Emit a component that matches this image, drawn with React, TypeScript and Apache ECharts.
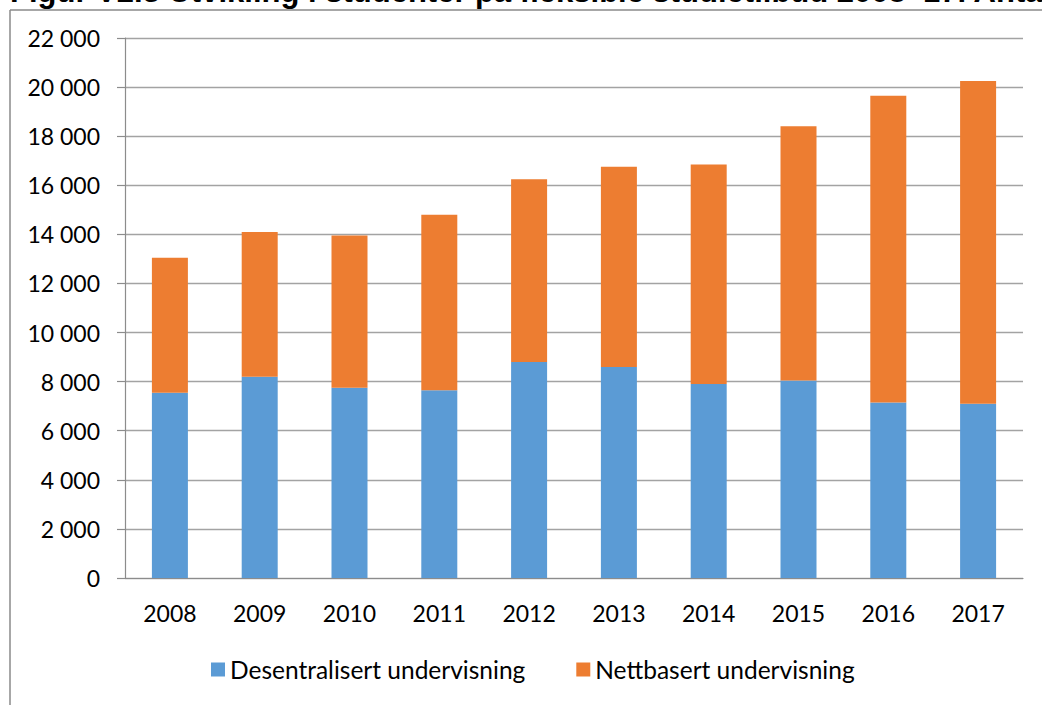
import React, { useEffect, useRef } from "react";
import * as echarts from "echarts";

const years = ["2008", "2009", "2010", "2011", "2012", "2013", "2014", "2015", "2016", "2017"];
const desentralisert = [7550, 8200, 7750, 7650, 8800, 8600, 7900, 8050, 7150, 7100];
const nettbasert = [5500, 5900, 6200, 7150, 7450, 8150, 8950, 10350, 12500, 13150];
const seriesNames = ["Desentralisert undervisning", "Nettbasert undervisning"];
const titleText = "Figur V2.3 Utvikling i studenter på fleksible studietilbud 2008–17. Antall";

const fmt = (v: number) => {
  const s = String(Math.round(v));
  return s.replace(/\B(?=(\d{3})+(?!\d))/g, " ");
};

export default function App() {
  const ref = useRef<HTMLDivElement>(null);
  useEffect(() => {
    if (!ref.current) return;
    const chart = echarts.init(ref.current, null, { renderer: "svg" });
    const font = "Lato, 'Open Sans', sans-serif";
    chart.setOption({
      animation: false,
      backgroundColor: "#ffffff",
      grid: { left: 125, right: 19, top: 38, bottom: 127, containLabel: false },
      legend: {
        bottom: 18,
        left: 206,
        itemWidth: 14,
        itemHeight: 14,
        itemGap: 51,
        icon: "rect",
        textStyle: { fontFamily: font, fontSize: 24.5, color: "#000", padding: [0, 0, 0, 0] },
        data: seriesNames,
      },
      xAxis: {
        type: "category",
        data: years,
        axisLine: { lineStyle: { color: "#8c8c8c", width: 1.2 } },
        axisTick: { length: 8, lineStyle: { color: "#8c8c8c", width: 1.2 } },
        axisLabel: { margin: 23, fontFamily: font, fontSize: 23, color: "#000" },
      },
      yAxis: {
        type: "value",
        min: 0,
        max: 22000,
        interval: 2000,
        axisLine: { show: true, lineStyle: { color: "#8c8c8c", width: 1.2 } },
        axisTick: { show: true, length: 8, lineStyle: { color: "#8c8c8c", width: 1.2 } },
        splitLine: { lineStyle: { color: "#a3a3a3", width: 1.3 } },
        axisLabel: { margin: 25, fontFamily: font, fontSize: 23, color: "#000", formatter: (v: number) => fmt(v) },
      },
      series: [
        {
          name: seriesNames[0],
          type: "bar",
          stack: "total",
          barWidth: 36,
          data: desentralisert,
          itemStyle: { color: "#5B9BD5" },
        },
        {
          name: seriesNames[1],
          type: "bar",
          stack: "total",
          barWidth: 36,
          data: nettbasert,
          itemStyle: { color: "#ED7D31" },
        },
      ],
      graphic: [
        {
          type: "text",
          x: 10,
          y: -9,
          style: {
            text: titleText,
            font: "bold 31px 'Liberation Sans', Arial, sans-serif",
            fill: "#000",
            verticalAlign: "middle",
          },
        },
        {
          type: "line",
          shape: { x1: 10, y1: 10, x2: 1042, y2: 10 },
          style: { stroke: "#8a8a8a", lineWidth: 1.5 },
        },
        {
          type: "line",
          shape: { x1: 10, y1: 10, x2: 10, y2: 705 },
          style: { stroke: "#8a8a8a", lineWidth: 1.5 },
        },
      ],
    });
    return () => chart.dispose();
  }, []);
  return <div ref={ref} style={{ position: "absolute", left: 0, top: 0, width: 1042, height: 705 }} />;
}
